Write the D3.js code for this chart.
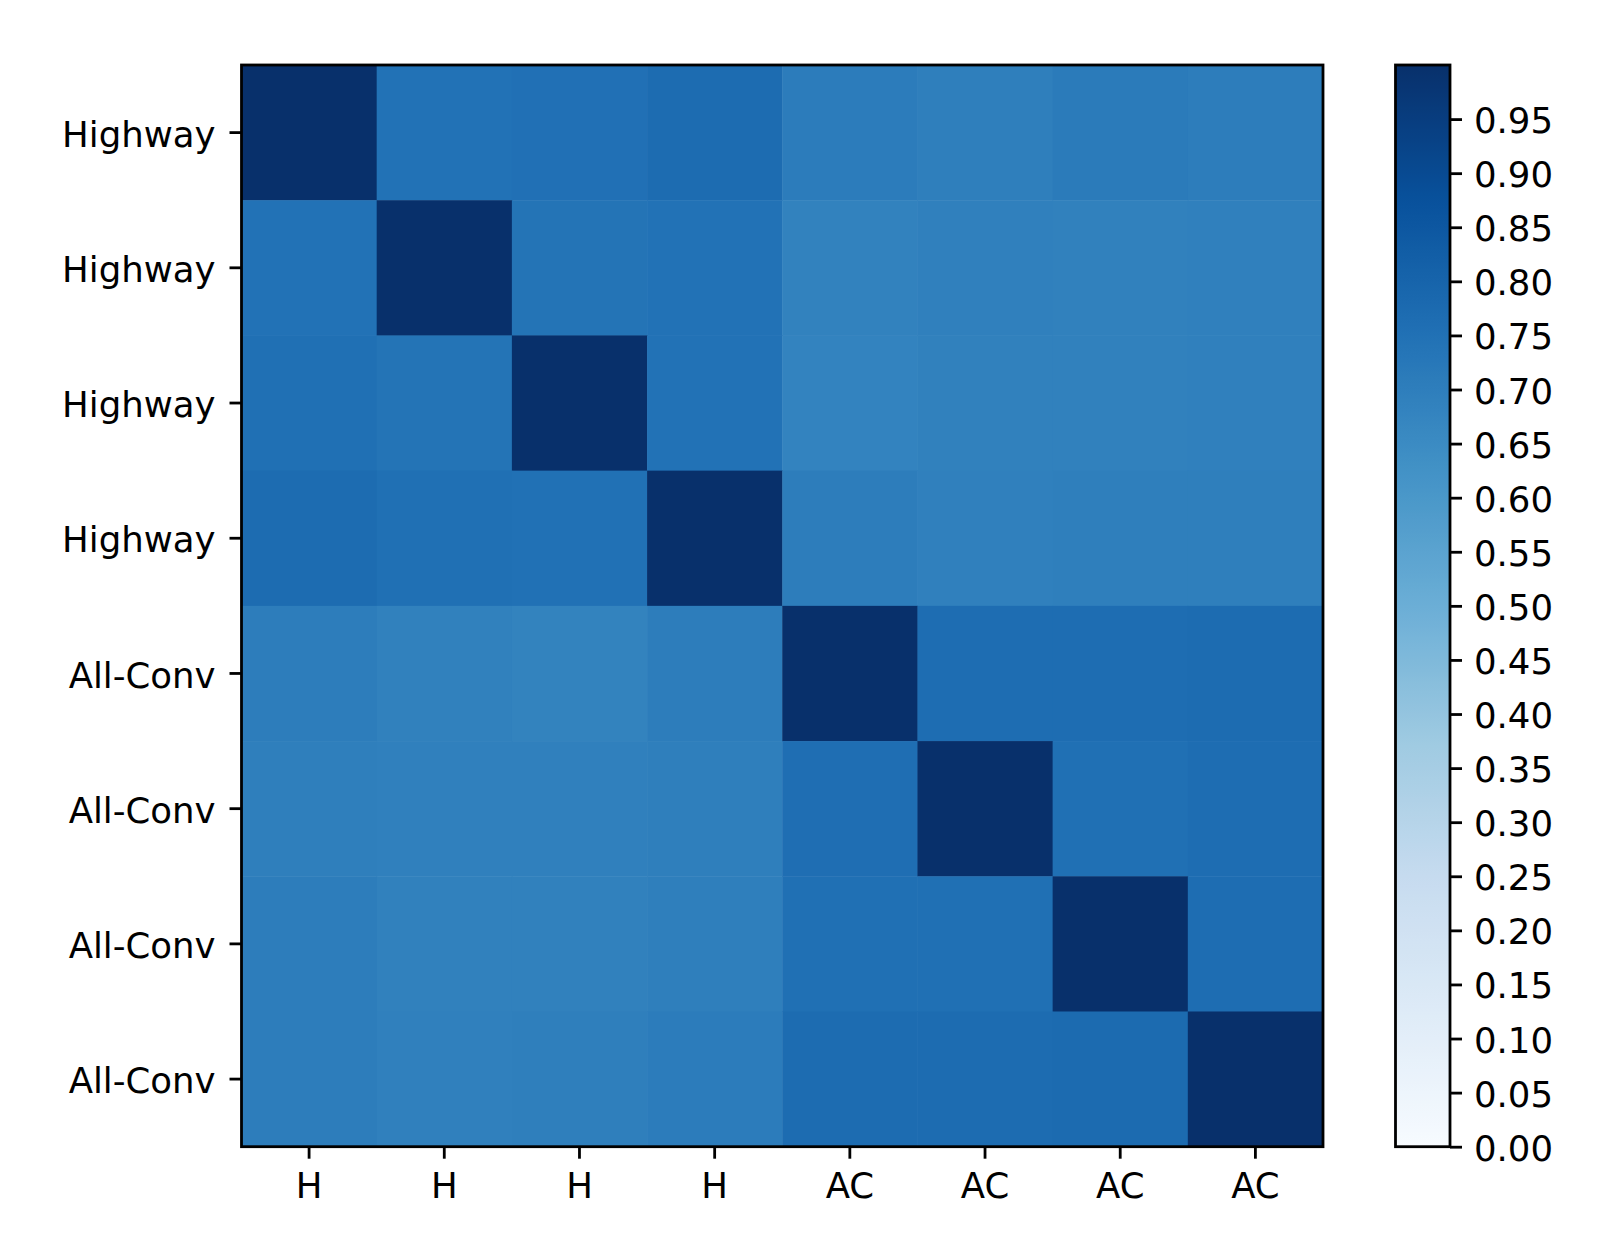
<!DOCTYPE html>
<html>
<head>
<meta charset="utf-8">
<script src="https://cdn.jsdelivr.net/npm/d3@7"></script>
<style>
  html, body { margin: 0; padding: 0; background: #fff; }
  svg { display: block; }
  text { font-family: "DejaVu Sans", sans-serif; fill: #000; }
</style>
</head>
<body>
<svg id="chart" width="1606" height="1251"></svg>
<script>
// ---- data ----
const rowLabels = ["Highway", "Highway", "Highway", "Highway", "All-Conv", "All-Conv", "All-Conv", "All-Conv"];
const colLabels = ["H", "H", "H", "H", "AC", "AC", "AC", "AC"];
const row0 = [1.000, 0.745, 0.752, 0.768, 0.708, 0.698, 0.712, 0.703];
const row1 = [0.745, 1.000, 0.740, 0.745, 0.685, 0.693, 0.688, 0.693];
const row2 = [0.755, 0.740, 1.000, 0.745, 0.680, 0.688, 0.688, 0.693];
const row3 = [0.770, 0.755, 0.750, 1.000, 0.703, 0.693, 0.698, 0.698];
const row4 = [0.703, 0.688, 0.683, 0.703, 1.000, 0.765, 0.765, 0.770];
const row5 = [0.698, 0.693, 0.693, 0.698, 0.760, 1.000, 0.755, 0.765];
const row6 = [0.703, 0.688, 0.688, 0.698, 0.755, 0.755, 1.000, 0.765];
const row7 = [0.703, 0.693, 0.698, 0.708, 0.770, 0.770, 0.775, 1.000];
const matrix = [row0, row1, row2, row3, row4, row5, row6, row7];
const colorbarTicks = [0.00, 0.05, 0.10, 0.15, 0.20, 0.25, 0.30, 0.35, 0.40, 0.45,
                       0.50, 0.55, 0.60, 0.65, 0.70, 0.75, 0.80, 0.85, 0.90, 0.95];
const vmin = 0, vmax = 1;

// ---- layout ----
const svg = d3.select("#chart");
const plot = { x0: 241.5, x1: 1323, y0: 65, y1: 1146.7 };
const cbar = { x0: 1395.5, x1: 1450, y0: 65, y1: 1146.7 };
const fontSize = 35.5;

// matplotlib "Blues": linear interpolation between the 9 ColorBrewer stops
const bluesStops = d3.schemeBlues[9];
const color = d3.scaleLinear()
  .domain(d3.range(9).map(i => vmin + (vmax - vmin) * i / 8))
  .range(bluesStops)
  .interpolate(d3.interpolateRgb)
  .clamp(true);

const idx = d3.range(colLabels.length);
const x = d3.scaleBand().domain(idx).range([plot.x0, plot.x1]);
const y = d3.scaleBand().domain(idx).range([plot.y0, plot.y1]);

// cells
const cells = [];
matrix.forEach((r, i) => r.forEach((v, j) => cells.push({ i, j, v })));
svg.append("g")
  .selectAll("rect")
  .data(cells)
  .enter().append("rect")
  .attr("x", d => x(d.j))
  .attr("y", d => y(d.i))
  .attr("width", x.bandwidth() + 0.5)
  .attr("height", y.bandwidth() + 0.5)
  .attr("fill", d => color(d.v));

// frame
svg.append("rect")
  .attr("x", plot.x0).attr("y", plot.y0)
  .attr("width", plot.x1 - plot.x0).attr("height", plot.y1 - plot.y0)
  .attr("fill", "none").attr("stroke", "#000").attr("stroke-width", 2.8);

// axes
const tickLen = 12;
const yAxis = d3.axisLeft(y).tickSize(tickLen).tickPadding(14).tickFormat(i => rowLabels[i]);
const gy = svg.append("g").attr("transform", `translate(${plot.x0},0)`).call(yAxis);
const xAxis = d3.axisBottom(x).tickSize(tickLen).tickPadding(12).tickFormat(i => colLabels[i]);
const gx = svg.append("g").attr("transform", `translate(0,${plot.y1})`).call(xAxis);

[gx, gy].forEach(g => {
  g.select(".domain").remove();
  g.selectAll(".tick line").attr("stroke", "#000").attr("stroke-width", 2.8);
  g.selectAll(".tick text")
    .style("font-family", '"DejaVu Sans", sans-serif')
    .style("font-size", fontSize + "px")
    .attr("fill", "#000");
});
gy.selectAll(".tick text").attr("dy", "0.40em");
gx.selectAll(".tick text").attr("dy", "0.76em");

// colorbar
const cy = d3.scaleLinear().domain([vmin, vmax]).range([cbar.y1, cbar.y0]);
const defs = svg.append("defs");
const grad = defs.append("linearGradient")
  .attr("id", "cbgrad")
  .attr("x1", "0").attr("y1", "1").attr("x2", "0").attr("y2", "0");
d3.range(0, 1.0001, 0.01).forEach(t => {
  grad.append("stop")
    .attr("offset", t)
    .attr("stop-color", color(vmin + t * (vmax - vmin)));
});
svg.append("rect")
  .attr("x", cbar.x0).attr("y", cbar.y0)
  .attr("width", cbar.x1 - cbar.x0).attr("height", cbar.y1 - cbar.y0)
  .attr("fill", "url(#cbgrad)")
  .attr("stroke", "#000").attr("stroke-width", 2.8);

const cAxis = d3.axisRight(cy).tickValues(colorbarTicks).tickSize(tickLen).tickPadding(12)
  .tickFormat(d3.format(".2f"));
const gc = svg.append("g").attr("transform", `translate(${cbar.x1},0)`).call(cAxis);
gc.select(".domain").remove();
gc.selectAll(".tick line").attr("stroke", "#000").attr("stroke-width", 2.8);
gc.selectAll(".tick text")
  .style("font-family", '"DejaVu Sans", sans-serif')
  .style("font-size", fontSize + "px")
  .attr("fill", "#000")
  .attr("dy", "0.38em");
</script>
</body>
</html>
